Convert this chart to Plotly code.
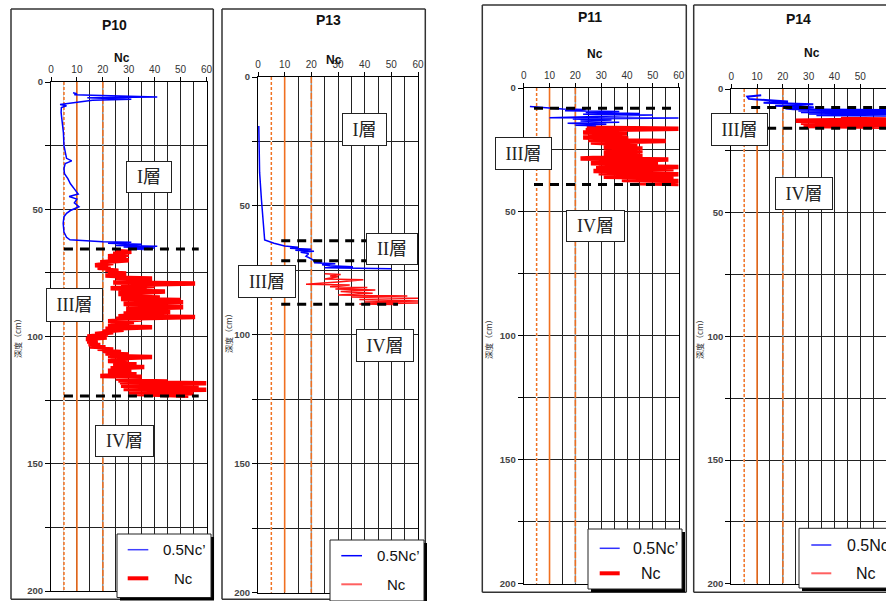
import plotly.graph_objects as go

W, H = 886, 601

# ---------------- data ----------------
PANEL_NAMES = ["P10", "P13", "P11", "P14"]
SERIES_NAMES = ["0.5Nc’", "Nc"]
AXIS_TITLE_X = "Nc"
AXIS_TITLE_Y = "深度（cm）"
X_TICKS = [0, 10, 20, 30, 40, 50, 60]
Y_TICKS = [0, 50, 100, 150, 200]
REF_LINES = [5, 10, 20]

# P10
P10_NC1_DEPTH = [4.2, 4.6, 5.0, 5.5, 5.9, 6.2, 6.5, 6.8, 7.2, 7.6,
                 8.2, 8.8, 9.3, 10.0, 12.0, 15.0, 20.0, 25.0, 28.0, 30.0,
                 31.0, 32.0, 34.0, 36.0, 38.0, 40.0, 42.0, 44.0, 45.0, 46.0,
                 47.5, 49.0, 50.5, 51.6, 53.0, 55.5, 59.0, 61.0, 62.0, 62.8,
                 63.0, 63.4, 63.8, 64.2, 64.5, 64.8, 65.2, 65.5, 65.8]
P10_NC1_VALUE = [8.5, 10, 9, 27, 41, 14, 28, 31, 16, 13,
                 9, 3.5, 6, 4, 3.9, 4.2, 4.8, 5, 5.5, 6,
                 8, 5.5, 5, 5.2, 6.5, 7.5, 9, 10.5, 7, 10,
                 9, 10.8, 7.5, 6, 5, 4.7, 5, 6, 7.3, 20,
                 31, 22, 35, 25, 41, 28, 40, 30, 36]
P10_NC_DEPTH = [66.4, 66.75, 67.5, 67.85, 68.5, 68.85, 69.7, 70.05, 70.8, 71.15,
                72.0, 72.35, 73.0, 73.35, 73.8, 74.15, 74.9, 75.25, 76.0, 76.35,
                76.9, 77.25, 78.0, 78.35, 78.8, 79.15, 79.8, 80.15, 81.0, 81.35,
                82.0, 82.35, 83.3, 83.65, 84.3, 84.65, 85.3, 85.65, 86.2, 86.55,
                87.2, 87.55, 88.2, 88.55, 89.2, 89.55, 90.0, 90.35, 91.0, 91.35,
                92.0, 92.35, 93.0, 93.35, 94.0, 94.35, 95.0, 95.35, 96.0, 96.35,
                97.0, 97.35, 98.0, 98.35, 99.0, 99.35, 100.0, 100.35, 101.0, 101.35,
                102.0, 102.35, 103.0, 103.35, 103.9, 104.25, 104.8, 105.15, 105.7, 106.05,
                106.7, 107.05, 107.7, 108.05, 108.6, 108.95, 109.6, 109.95, 110.6, 110.95,
                111.6, 111.95, 112.5, 112.85, 113.5, 113.85, 114.5, 114.85, 115.5, 115.85,
                116.5, 116.85, 117.3, 117.65, 118.0, 118.35, 118.7, 119.05, 119.4, 119.75,
                120.0, 120.3, 120.6, 120.9, 121.3, 121.6, 122.0, 122.3, 122.6, 122.85,
                123.0, 123.3]
P10_NC_VALUE = [25, 31, 24, 30, 22, 29, 22, 30, 19, 24,
                17, 22, 18, 23, 21, 26, 22, 29, 21, 27,
                25, 39, 27, 33, 24, 55.6, 27, 40, 23, 37,
                26, 44, 26, 33, 27, 42, 27, 50, 28, 51,
                28, 47, 29, 51, 29, 44, 29, 46, 28, 40,
                26, 55.6, 25, 35, 22, 32, 23, 30, 22, 39,
                21, 28, 20, 24, 17, 22, 14, 21.5, 13.5, 17,
                14, 18, 14.5, 19, 15, 21, 18, 24, 20, 27,
                21, 30, 22, 39, 23, 30, 22, 30, 24, 33,
                24, 36, 23, 30, 22, 31, 22, 33, 19, 35,
                25, 32, 26, 45, 26.6, 60, 28, 50, 27, 57,
                30, 48, 28, 60, 31, 52, 30, 55, 33, 45,
                37, 53]
P10_BOUNDS = [65.6, 123.4]
P10_BOUND_SPAN = [5, 57]

# P13
P13_NC1_DEPTH = [19, 25, 37, 47.7, 55, 60, 63.2, 64.5, 65.5, 66.0,
                 66.4, 66.8, 67.2, 67.6, 68.0, 68.5, 69.5, 70.5, 71.0, 71.6,
                 72.0, 72.4, 72.8, 73.2, 73.6, 74.0, 74.2, 74.4]
P13_NC1_VALUE = [0.3, 0.4, 0.6, 1.3, 2.0, 2.3, 2.5, 6, 10, 15,
                 12, 20, 14, 21, 16, 19, 18, 20, 20.6, 24,
                 21, 29, 24, 27, 35.6, 25, 34, 50]
P13_NC_DEPTH = [76.3, 76.6, 77.2, 77.5, 78.3, 78.6, 79.5, 80.4, 80.7, 81.3,
                81.6, 82.2, 82.6, 83.2, 83.9, 84.5, 84.9, 85.3, 85.8, 86.3,
                86.9, 87.3, 87.6, 88.0, 88.2]
P13_NC_VALUE = [25, 31, 27, 30, 25, 39.5, 30, 18, 34.4, 27,
                41, 29, 44, 31, 43, 30, 56, 35, 60, 38,
                60, 40, 60, 38, 52]
P13_BOUNDS = [63.5, 71.3, 88.1]
P13_BOUND_SPAN = [8.7, 52.5]

# P11
P11_NC1_DEPTH = [7.5, 8.0, 8.5, 8.7, 9.2, 9.5, 9.9, 10.3, 10.6, 10.9,
                 11.4, 12.0, 12.1, 12.5, 12.9, 13.3, 13.8, 14.2, 14.6, 15.0,
                 15.2]
P11_NC1_VALUE = [2.4, 10, 15, 24, 16, 37, 24, 45, 23, 50,
                 28, 10, 60, 19, 34, 22, 37, 17, 32, 20,
                 28]
P11_NC_DEPTH = [16.0, 16.4, 17.0, 17.4, 18.0, 18.4, 19.0, 19.4, 20.0, 20.4,
                21.0, 21.4, 22.0, 22.4, 23.0, 23.4, 24.0, 24.4, 25.0, 25.4,
                26.0, 26.4, 27.0, 27.4, 28.4, 28.8, 29.5, 29.9, 30.4, 30.8,
                31.5, 31.9, 32.4, 32.8, 33.5, 33.9, 34.4, 34.8, 35.8, 36.2,
                37.1, 37.5, 38.4, 38.7]
P11_NC_VALUE = [24.4, 60, 24, 33, 23, 40, 25, 40, 23, 40.5,
                25, 55, 26, 34, 31, 44, 31, 46, 31.7, 46,
                31, 45, 31, 46, 22, 56, 28, 44, 26, 52,
                29, 60, 28, 58, 27, 52, 29, 60, 31, 58,
                38, 60, 45, 60]
P11_BOUNDS = [8.2, 38.9]
P11_BOUND_SPAN = [4, 57.3]

# P14
P14_NC1_DEPTH = [2.5, 3.1, 4.0, 4.5, 5.1, 5.6, 6.2, 6.8, 7.4, 7.9,
                 8.2, 8.5, 8.8, 9.1, 9.4, 9.7, 10.0, 10.3, 10.6, 10.8]
P14_NC1_VALUE = [11.6, 6.2, 6.8, 14.9, 22, 12.5, 31.8, 17, 32, 21,
                 24, 60, 26, 60, 27, 60, 30, 60, 33, 60]
P14_NC_DEPTH = [12.1, 12.3, 12.8, 13.2, 13.6, 14.1, 14.4, 14.6, 15.0, 15.3]
P14_NC_VALUE = [42.5, 60, 25, 60, 27, 38, 44, 60, 28, 60]
P14_BOUNDS = [7.5, 15.9]
P14_BOUND_SPAN = [7.7, 60]

# layer labels per panel
P10_LAYERS = ["I層", "III層", "IV層"]
P13_LAYERS = ["I層", "II層", "III層", "IV層"]
P11_LAYERS = ["III層", "IV層"]
P14_LAYERS = ["III層", "IV層"]


# ---------------- helpers ----------------
def fx(px):
    return min(max(px, 0), W) / W


def fy(py):
    return 1 - min(max(py, 0), H) / H


SANS = "Liberation Sans, Arial, sans-serif"
SERIF = "Liberation Serif, Noto Sans CJK JP, serif"
CJK = "Noto Sans CJK JP, sans-serif"
ORANGE = "#F07020"

panels = [
    dict(name=PANEL_NAMES[0], d1=P10_NC1_DEPTH, v1=P10_NC1_VALUE, d2=P10_NC_DEPTH, v2=P10_NC_VALUE,
         bounds=P10_BOUNDS, span=P10_BOUND_SPAN, layers=P10_LAYERS,
         xdom=(51, 206.5), ydom=(82, 591), border=(11, 9, 213.3, 599.3), open_right=False,
         title=(114.3, 25), nc=(121.7, 57.5), ytitle=(18, 336),
         bw=1.5, rw=4.5, rcol="#ff0000", bcol="#0000ff",
         boxes=[(149, 177, 46, 32), (74.5, 305, 57, 34), (124, 441, 59, 32)],
         leg=dict(box=(117, 534, 211, 597.5), sx=(127.7, 148.3), sy=(549.7, 578.3), t1=161, t2=183.8,
                  size=15, bc="#4040ff", bwid=1.5, rc="#ff0000", rwid=4)),
    dict(name=PANEL_NAMES[1], d1=P13_NC1_DEPTH, v1=P13_NC1_VALUE, d2=P13_NC_DEPTH, v2=P13_NC_VALUE,
         bounds=P13_BOUNDS, span=P13_BOUND_SPAN, layers=P13_LAYERS,
         xdom=(258, 418), ydom=(77, 592.7), border=(222, 9, 425.3, 599.3), open_right=False,
         title=(328.7, 20), nc=(334, 60), ytitle=(228, 331),
         bw=1.5, rw=1.5, rcol="#ff1010", bcol="#0000ff",
         boxes=[(364.8, 129.2, 45, 33), (392, 249, 52, 32), (267.2, 281.7, 58, 33), (384.8, 345, 58, 33)],
         leg=dict(box=(330, 540, 424, 601), sx=(341.3, 362), sy=(555.7, 584.3), t1=374.7, t2=396.3,
                  size=15, bc="#0000ff", bwid=1.5, rc="#ff6060", rwid=2)),
    dict(name=PANEL_NAMES[2], d1=P11_NC1_DEPTH, v1=P11_NC1_VALUE, d2=P11_NC_DEPTH, v2=P11_NC_VALUE,
         bounds=P11_BOUNDS, span=P11_BOUND_SPAN, layers=P11_LAYERS,
         xdom=(523.7, 678.7), ydom=(88, 583.7), border=(482.3, 5, 686.3, 592.3), open_right=False,
         title=(589.7, 17), nc=(594.7, 54), ytitle=(489, 337),
         bw=1.5, rw=4.5, rcol="#ff0000", bcol="#0000ff",
         boxes=[(523, 153, 57, 33), (595.8, 225.5, 59, 32)],
         leg=dict(box=(588, 529, 682, 589), sx=(599.7, 619.7), sy=(548.3, 573.3), t1=631.3, t2=651,
                  size=16, bc="#3030ff", bwid=1.5, rc="#ff0000", rwid=4)),
    dict(name=PANEL_NAMES[3], d1=P14_NC1_DEPTH, v1=P14_NC1_VALUE, d2=P14_NC_DEPTH, v2=P14_NC_VALUE,
         bounds=P14_BOUNDS, span=P14_BOUND_SPAN, layers=P14_LAYERS,
         xdom=(731.3, 886), ydom=(89, 583.7), border=(693.7, 5, 886, 592.3), open_right=True,
         title=(798, 19), nc=(812, 53.3), ytitle=(700, 337),
         bw=2, rw=4.5, rcol="#ff0000", bcol="#0000ff",
         boxes=[(739.3, 129, 57, 33), (804, 193.3, 58, 33)],
         leg=dict(box=(799, 528.3, 886, 588), sx=(811.3, 831.3), sy=(545, 573.3), t1=844.7, t2=866.3,
                  size=16, bc="#6060ff", bwid=2, rc="#ff6060", rwid=2)),
]


def seg(x0, y0, x1, y1, color, width, layer="above"):
    return dict(type="line", xref="paper", yref="paper", x0=fx(x0), x1=fx(x1), y0=fy(y0), y1=fy(y1),
                layer=layer, line=dict(color=color, width=width))


fig = go.Figure()
shapes = []
annotations = []
layout_axes = {}

for i, p in enumerate(panels):
    sfx = "" if i == 0 else str(i + 1)
    xa, ya = "x" + sfx, "y" + sfx

    fig.add_trace(go.Scatter(x=p["v2"], y=p["d2"], mode="lines", name=SERIES_NAMES[1],
                             line=dict(color=p["rcol"], width=p["rw"]),
                             xaxis=xa, yaxis=ya, showlegend=False, hoverinfo="skip"))
    fig.add_trace(go.Scatter(x=p["v1"], y=p["d1"], mode="lines", name=SERIES_NAMES[0],
                             line=dict(color=p["bcol"], width=p["bw"]),
                             xaxis=xa, yaxis=ya, showlegend=False, hoverinfo="skip"))

    x0, x1 = p["xdom"]
    y0, y1 = p["ydom"]
    layout_axes["xaxis" + sfx] = dict(
        domain=[fx(x0), fx(x1)], range=[0, 60], side="top", anchor=ya, automargin=False,
        tickvals=X_TICKS, ticks="outside", ticklen=4, tickcolor="#000",
        tickfont=dict(family=SANS, size=10, color="#333"),
        showgrid=True, gridcolor="#222", gridwidth=1,
        minor=dict(dtick=5, tick0=0, showgrid=True, gridcolor="#222", gridwidth=1),
        showline=True, linecolor="#000", linewidth=1.2, mirror=True, zeroline=False, fixedrange=True)
    layout_axes["yaxis" + sfx] = dict(
        domain=[fy(y1), fy(y0)], range=[200, 0], anchor=xa, automargin=False,
        tickvals=Y_TICKS, ticks="outside", ticklen=5, tickcolor="#000",
        tickfont=dict(family=SANS, size=9.5, color="#444", weight="bold"),
        showgrid=True, gridcolor="#222", gridwidth=1,
        minor=dict(dtick=25, tick0=0, showgrid=True, gridcolor="#222", gridwidth=1,
                   ticks="outside", ticklen=5, tickcolor="#000"),
        showline=True, linecolor="#000", linewidth=1.2, mirror=True, zeroline=False, fixedrange=True)

    # reference lines 5 / 10 / 20
    for v in REF_LINES:
        if v == 5:
            shapes.append(dict(type="line", xref=xa, yref=ya, x0=v, x1=v, y0=0, y1=200, layer="between",
                               line=dict(color="white", width=1.5)))
            shapes.append(dict(type="line", xref=xa, yref=ya, x0=v, x1=v, y0=0, y1=200, layer="between",
                               line=dict(color=ORANGE, width=1.5, dash="3px,2px")))
        elif v == 10:
            shapes.append(dict(type="line", xref=xa, yref=ya, x0=v, x1=v, y0=0, y1=200, layer="between",
                               line=dict(color=ORANGE, width=1.6)))
        else:
            shapes.append(dict(type="line", xref=xa, yref=ya, x0=v, x1=v, y0=0, y1=200, layer="between",
                               line=dict(color="#999", width=1.5)))
            shapes.append(dict(type="line", xref=xa, yref=ya, x0=v, x1=v, y0=0, y1=200, layer="between",
                               line=dict(color=ORANGE, width=1.5, dash="6px,2px")))

    # layer boundaries
    for d in p["bounds"]:
        shapes.append(dict(type="line", xref=xa, yref=ya, x0=p["span"][0], x1=p["span"][1], y0=d, y1=d,
                           layer="above", line=dict(color="black", width=3, dash="9px,7px")))

    # panel border
    bx0, by0, bx1, by1 = p["border"]
    shapes.append(seg(bx0, by0, bx1, by0, "#333", 1.5))
    shapes.append(seg(bx0, by1, bx1, by1, "#333", 1.5))
    shapes.append(seg(bx0, by0, bx0, by1, "#333", 1.5))
    if not p["open_right"]:
        shapes.append(seg(bx1, by0, bx1, by1, "#333", 1.5))

    # titles
    annotations.append(dict(text="<b>%s</b>" % p["name"], x=fx(p["title"][0]), y=fy(p["title"][1]),
                            xref="paper", yref="paper", showarrow=False, xanchor="center", yanchor="middle",
                            font=dict(family=SANS, size=14, color="#111")))
    annotations.append(dict(text="<b>%s</b>" % AXIS_TITLE_X, x=fx(p["nc"][0]), y=fy(p["nc"][1]),
                            xref="paper", yref="paper", showarrow=False, xanchor="center", yanchor="middle",
                            font=dict(family=SANS, size=12, color="#111")))
    annotations.append(dict(text=AXIS_TITLE_Y, x=fx(p["ytitle"][0]), y=fy(p["ytitle"][1]),
                            xref="paper", yref="paper", showarrow=False, xanchor="center", yanchor="middle",
                            textangle=-90, font=dict(family=CJK, size=8, color="#333")))

    # layer labels
    for txt, (cx, cy, bwid, bhei) in zip(p["layers"], p["boxes"]):
        annotations.append(dict(text=txt, x=fx(cx), y=fy(cy), xref="paper", yref="paper", showarrow=False,
                                xanchor="center", yanchor="middle", width=bwid - 2, height=bhei - 2,
                                bgcolor="white", bordercolor="#222", borderwidth=1, borderpad=0,
                                font=dict(family=SERIF, size=18, color="#222")))

    # legend (drawn)
    lg = p["leg"]
    lx0, ly0, lx1, ly1 = lg["box"]
    shapes.append(dict(type="rect", xref="paper", yref="paper", x0=fx(lx0 + 3), x1=fx(lx1 + 3),
                       y0=fy(ly1 + 3), y1=fy(ly0 + 3), fillcolor="black", line=dict(width=0), layer="above"))
    shapes.append(dict(type="rect", xref="paper", yref="paper", x0=fx(lx0), x1=fx(lx1),
                       y0=fy(ly1), y1=fy(ly0), fillcolor="white", line=dict(width=0), layer="above"))
    shapes.append(seg(lx0, ly0, lx1, ly0, "#222", 1))
    shapes.append(seg(lx0, ly1, lx1, ly1, "#222", 1))
    shapes.append(seg(lx0, ly0, lx0, ly1, "#222", 1))
    if not p["open_right"]:
        shapes.append(seg(lx1, ly0, lx1, ly1, "#222", 1))
    shapes.append(seg(lg["sx"][0], lg["sy"][0], lg["sx"][1], lg["sy"][0], lg["bc"], lg["bwid"]))
    shapes.append(seg(lg["sx"][0], lg["sy"][1], lg["sx"][1], lg["sy"][1], lg["rc"], lg["rwid"]))
    annotations.append(dict(text=SERIES_NAMES[0], x=fx(lg["t1"]), y=fy(lg["sy"][0]), xref="paper", yref="paper",
                            showarrow=False, xanchor="left", yanchor="middle",
                            font=dict(family=SANS, size=lg["size"], color="#111")))
    annotations.append(dict(text=SERIES_NAMES[1], x=fx(lg["t2"]), y=fy(lg["sy"][1]), xref="paper", yref="paper",
                            showarrow=False, xanchor="center", yanchor="middle",
                            font=dict(family=SANS, size=lg["size"], color="#111")))

fig.update_layout(
    template="none",
    width=W, height=H, autosize=False,
    margin=dict(l=0, r=0, t=0, b=0, pad=0, autoexpand=False),
    paper_bgcolor="white", plot_bgcolor="white",
    showlegend=False,
    shapes=shapes, annotations=annotations,
    **layout_axes,
)

fig.write_html("out.html", config={"responsive": False, "displayModeBar": False})

# remove the default page margin and clip anything past the figure edge
with open("out.html", "r", encoding="utf-8") as fh:
    html = fh.read()
css = ("<style>html,body{margin:0;padding:0;overflow:hidden;width:886px;height:601px;}"
       ".plotly-graph-div,.svg-container{overflow:hidden !important;}</style>")
html = html.replace("<head>", "<head>" + css, 1)
with open("out.html", "w", encoding="utf-8") as fh:
    fh.write(html)
